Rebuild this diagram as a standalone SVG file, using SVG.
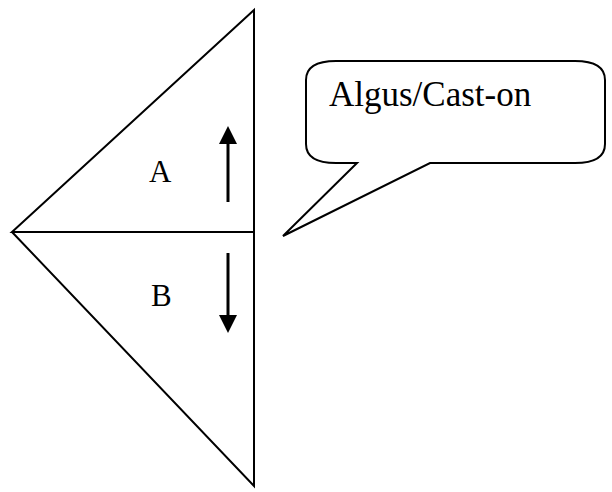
<svg xmlns="http://www.w3.org/2000/svg" width="612" height="492" viewBox="0 0 612 492">
<style>
.ln{fill:none;stroke:#000;stroke-width:2;stroke-linejoin:miter}
.t{font-family:"Liberation Serif",serif;fill:#000}
</style>
<defs>
<marker id="ah" markerWidth="10" markerHeight="10" refX="9" refY="5" orient="auto" markerUnits="userSpaceOnUse" viewBox="0 0 10 10">
<path d="M0,0 L10,5 L0,10 Z" fill="#000"/>
</marker>
</defs>
<rect width="612" height="492" fill="#fff"/>
<g id="triangle-A">
<path class="ln" d="M254,10 L12,232 L254,232 Z"/>
<text class="t" x="149" y="182" font-size="31">A</text>
</g>
<g id="triangle-B">
<path class="ln" d="M12,232 L254,486 L254,232"/>
<text class="t" x="151" y="306" font-size="31">B</text>
</g>
<g id="callout">
<path class="ln" d="M336,61 L575,61 Q605,61 605,80 L605,144 Q605,163 575,163 L430,163 L283,236 L357,163 L336,163 Q306,163 306,144 L306,80 Q306,61 336,61 Z"/>
<text class="t" x="329" y="106" font-size="35">Algus/Cast-on</text>
</g>
<g id="connectors">
<line x1="228" y1="202" x2="228" y2="143" stroke="#000" stroke-width="3"/>
<path d="M219,144 L228,126 L237,144 Z" fill="#000"/>
<line x1="228" y1="253" x2="228" y2="316" stroke="#000" stroke-width="3"/>
<path d="M219,315 L228,333 L237,315 Z" fill="#000"/>
</g>
</svg>
